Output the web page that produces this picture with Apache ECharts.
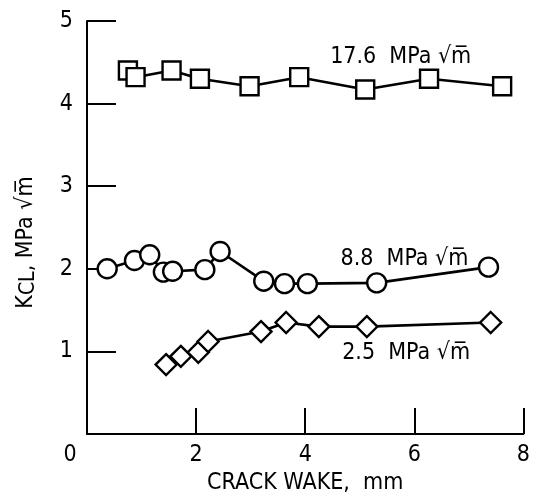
<!DOCTYPE html>
<html>
<head>
<meta charset="utf-8">
<script src="https://cdn.jsdelivr.net/npm/echarts@6/dist/echarts.min.js"></script>
<style>
  html, body { margin: 0; padding: 0; background: #fff; }
  #chart { width: 533px; height: 501px; }
</style>
</head>
<body>
<div id="chart"></div>
<script>
// crack wake (mm) and K_CL (MPa sqrt m)
const wake176 = [0.75, 0.89, 1.55, 2.07, 2.98, 3.89, 5.10, 6.27, 7.61]
const kcl176 = [4.40, 4.32, 4.40, 4.30, 4.21, 4.32, 4.17, 4.30, 4.21]

const wake88 = [0.37, 0.87, 1.15, 1.40, 1.57, 2.16, 2.44, 3.24, 3.62, 4.04, 5.31, 7.36]
const kcl88 = [2.00, 2.10, 2.17, 1.96, 1.97, 1.99, 2.21, 1.85, 1.82, 1.82, 1.83, 2.02]

const wake25 = [1.45, 1.72, 2.04, 2.22, 3.19, 3.65, 4.25, 5.13, 7.40]
const kcl25 = [0.84, 0.94, 0.99, 1.12, 1.24, 1.35, 1.30, 1.30, 1.35]

const curveNames = ['17.6  MPa √m\u0305', '8.8  MPa √m\u0305', '2.5  MPa √m\u0305']
const xTicks = [0, 2, 4, 6, 8]
const yTicks = [0, 1, 2, 3, 4, 5]

const FONT = '"DejaVu Sans Condensed", sans-serif'
const FS = 23

function pairs(xs, ys) {
  return xs.map((x, i) => [x, ys[i]])
}

// label written next to each curve, placed in data units
function curveLabel(text, at) {
  return {
    symbol: 'circle',
    symbolSize: 1,
    itemStyle: { color: 'transparent' },
    label: {
      show: true,
      position: 'inside',
      color: '#000',
      fontFamily: FONT,
      fontSize: FS,
      formatter: text
    },
    data: [{ coord: at }]
  }
}

function lineSeries(data, symbol, size, label) {
  return {
    type: 'line',
    data: data,
    symbol: symbol,
    symbolSize: size,
    showAllSymbol: true,
    lineStyle: { color: '#000', width: 2.6 },
    itemStyle: { color: '#fff', borderColor: '#000', borderWidth: 2.4 },
    animation: false,
    markPoint: label
  }
}

const chart = echarts.init(document.getElementById('chart'))

chart.setOption({
  animation: false,
  grid: { left: 87, right: 6, top: 21, bottom: 67, containLabel: false },
  xAxis: {
    type: 'value',
    min: xTicks[0],
    max: xTicks[xTicks.length - 1],
    interval: 2,
    name: 'CRACK WAKE,  mm',
    nameLocation: 'middle',
    nameGap: 33,
    nameTextStyle: { color: '#000', fontFamily: FONT, fontSize: FS },
    axisLine: { lineStyle: { color: '#000', width: 2 } },
    axisTick: { inside: true, length: 26, lineStyle: { color: '#000', width: 2 } },
    splitLine: { show: false },
    axisLabel: {
      color: '#000',
      fontFamily: FONT,
      fontSize: FS,
      margin: 10,
      formatter: v => (v === 0 ? '{z|0}' : String(v)),
      rich: { z: { fontFamily: FONT, fontSize: FS, color: '#000', padding: [0, 34, 0, 0] } }
    }
  },
  yAxis: {
    type: 'value',
    min: yTicks[0],
    max: yTicks[yTicks.length - 1],
    interval: 1,
    name: 'K{s|CL}, MPa √m\u0305',
    nameLocation: 'middle',
    nameGap: 48,
    nameRotate: 90,
    nameTextStyle: {
      color: '#000',
      fontFamily: FONT,
      fontSize: FS,
      padding: [0, 30, 0, 0],
      rich: { s: { fontFamily: FONT, fontSize: 21, color: '#000', padding: [5, 0, 0, 0] } }
    },
    axisLine: { lineStyle: { color: '#000', width: 2 } },
    axisTick: { inside: true, length: 29, lineStyle: { color: '#000', width: 2 } },
    splitLine: { show: false },
    axisLabel: {
      color: '#000',
      fontFamily: FONT,
      fontSize: FS,
      margin: 14,
      formatter: v => (v === 0 ? '' : String(v))
    }
  },
  series: [
    lineSeries(pairs(wake176, kcl176), 'rect', 18, curveLabel(curveNames[0], [5.75, 4.56])),
    lineSeries(pairs(wake88, kcl88), 'circle', 19, curveLabel(curveNames[1], [5.82, 2.12])),
    lineSeries(pairs(wake25, kcl25), 'diamond', 21, curveLabel(curveNames[2], [5.85, 0.98]))
  ]
})
</script>
</body>
</html>
